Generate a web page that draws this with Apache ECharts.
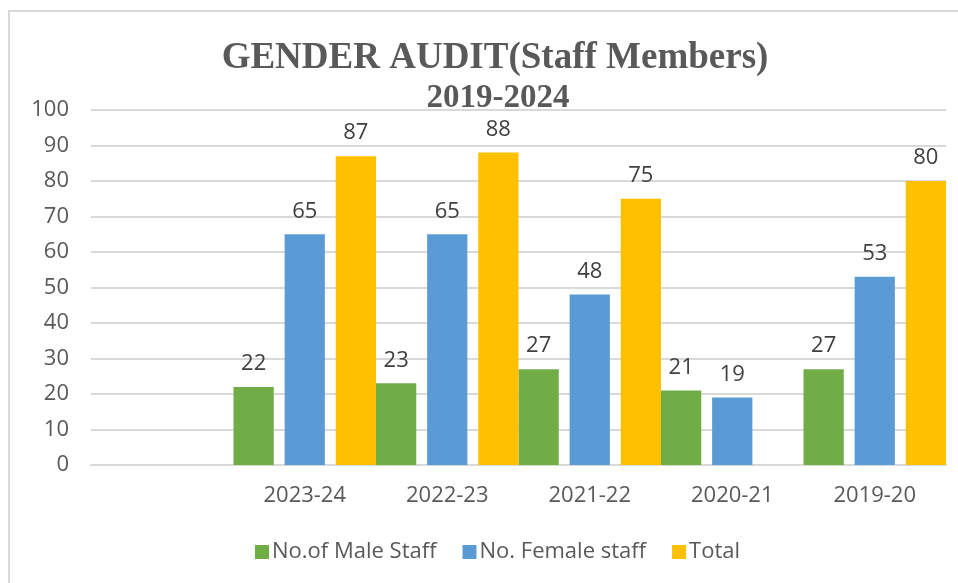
<!DOCTYPE html>
<html>
<head>
<meta charset="utf-8">
<style>
  html, body { margin: 0; padding: 0; background: #ffffff; }
  #chart { width: 958px; height: 583px; }
</style>
<script src="https://cdn.jsdelivr.net/npm/echarts@6/dist/echarts.min.js"></script>
</head>
<body>
<div id="chart"></div>
<script>
// Academic years (the leading blank slot is an empty category on the axis)
const categories = ['', '2023-24', '2022-23', '2021-22', '2020-21', '2019-20'];
const maleStaff   = [null, 22, 23, 27, 21, 27];
const femaleStaff = [null, 65, 65, 48, 19, 53];
const totalStaff  = [null, 87, 88, 75, null, 80];
const yTicks = { min: 0, max: 100, interval: 10 };

const TEXT_FONT = '"Open Sans", "Liberation Sans", sans-serif';
const TEXT_COLOR = '#595959';
const GRID_COLOR = '#D9D9D9';

const chart = echarts.init(document.getElementById('chart'), null, { renderer: 'canvas' });

function barSeries(name, data, color) {
  return {
    name: name,
    type: 'bar',
    data: data,
    barGap: '27%',
    barCategoryGap: '0%',
    itemStyle: { color: color },
    label: {
      show: true,
      position: 'top',
      distance: 12,
      color: '#404040',
      fontFamily: TEXT_FONT,
      fontSize: 22
    }
  };
}

chart.setOption({
  animation: false,
  backgroundColor: '#ffffff',
  graphic: [{
    type: 'rect',
    shape: { x: 9, y: 11, width: 1000, height: 600 },
    style: { fill: 'none', stroke: GRID_COLOR, lineWidth: 2 },
    silent: true,
    z: -10
  }],
  title: [{
    text: 'GENDER AUDIT(Staff Members)',
    left: 490,
    top: 35,
    textAlign: 'center',
    textStyle: {
      fontFamily: '"Liberation Serif", "Times New Roman", serif',
      fontWeight: 'bold',
      fontSize: 37,
      color: TEXT_COLOR
    }
  }, {
    text: '2019-2024',
    left: 493,
    top: 77,
    textAlign: 'center',
    textStyle: {
      fontFamily: '"Liberation Serif", "Times New Roman", serif',
      fontWeight: 'bold',
      fontSize: 33,
      color: TEXT_COLOR
    }
  }],
  legend: {
    left: 250,
    top: 536,
    itemWidth: 14,
    itemHeight: 14,
    itemGap: 26,
    icon: 'rect',
    textStyle: {
      fontFamily: TEXT_FONT,
      fontSize: 22,
      color: TEXT_COLOR,
      padding: [0, 0, 0, -2]
    },
    data: ['No.of Male Staff', 'No. Female staff', 'Total']
  },
  grid: { left: 91, right: 12, top: 110, bottom: 118, containLabel: false },
  xAxis: {
    type: 'category',
    data: categories,
    axisTick: { show: false },
    axisLine: { lineStyle: { color: GRID_COLOR, width: 2 } },
    axisLabel: {
      color: TEXT_COLOR,
      fontFamily: TEXT_FONT,
      fontSize: 22,
      margin: 20,
      interval: 0
    }
  },
  yAxis: {
    type: 'value',
    min: yTicks.min,
    max: yTicks.max,
    interval: yTicks.interval,
    axisLine: { show: false },
    axisTick: { show: false },
    splitLine: { lineStyle: { color: GRID_COLOR, width: 2 } },
    axisLabel: {
      color: TEXT_COLOR,
      fontFamily: TEXT_FONT,
      fontSize: 22,
      margin: 22
    }
  },
  series: [
    barSeries('No.of Male Staff', maleStaff, '#70AD47'),
    barSeries('No. Female staff', femaleStaff, '#5B9BD5'),
    barSeries('Total', totalStaff, '#FFC000')
  ]
});
</script>
</body>
</html>
